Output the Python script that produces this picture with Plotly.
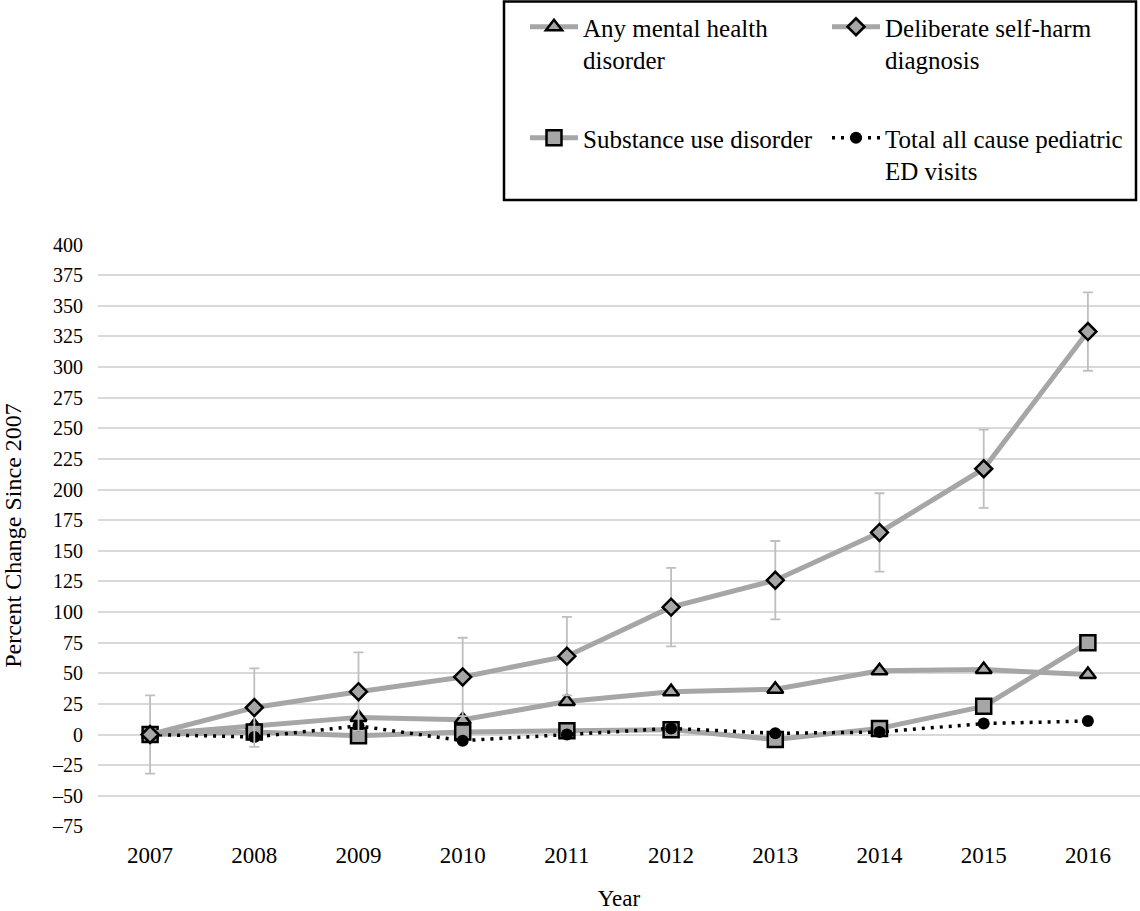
import plotly.graph_objects as go

years = ["2007", "2008", "2009", "2010", "2011", "2012", "2013", "2014", "2015", "2016"]
any_mental = [0, 7, 14, 12, 27, 35, 37, 52, 53, 49]
self_harm = [0, 22, 35, 47, 64, 104, 126, 165, 217, 329]
self_harm_err = [32, 32, 32, 32, 32, 32, 32, 32, 32, 32]
substance = [0, 2, -1, 2, 3, 4, -4, 5, 23, 75]
total_ed = [0, -2, 7, -5, 0, 5, 1, 2, 9, 11]

y_ticks = [-75, -50, -25, 0, 25, 50, 75, 100, 125, 150, 175, 200, 225, 250, 275, 300, 325, 350, 375, 400]
y_ticktext = ["\u201375", "\u201350", "\u201325", "0", "25", "50", "75", "100", "125", "150", "175", "200",
              "225", "250", "275", "300", "325", "350", "375", "400"]

FONT = "Liberation Serif, Times New Roman, serif"
GRAY = "#a6a6a6"

fig = go.Figure()

fig.add_trace(go.Scatter(
    x=years, y=any_mental, mode="lines+markers", name="Any mental health<br>disorder",
    line=dict(color=GRAY, width=5),
    marker=dict(symbol="triangle-up", size=14, color=GRAY, line=dict(color="black", width=2.5)),
    legend="legend", legendgroup="a", legendrank=1,
))
fig.add_trace(go.Scatter(
    x=years, y=substance, mode="lines+markers", name="Substance use disorder<br>&nbsp;",
    line=dict(color=GRAY, width=5),
    marker=dict(symbol="square", size=15, color=GRAY, line=dict(color="black", width=2.5)),
    legend="legend", legendgroup="b", legendrank=2,
))
fig.add_trace(go.Scatter(
    x=years, y=total_ed, mode="lines+markers", name="Total all cause pediatric<br>ED visits",
    line=dict(color="black", width=3.5, dash="3px,6px"),
    marker=dict(symbol="circle", size=12, color="black"),
    legend="legend2", legendgroup="d", legendrank=2,
))
fig.add_trace(go.Scatter(
    x=years, y=self_harm, mode="lines+markers", name="Deliberate self-harm<br>diagnosis",
    line=dict(color=GRAY, width=5),
    marker=dict(symbol="diamond", size=13, color=GRAY, line=dict(color="black", width=2.5)),
    error_y=dict(type="data", array=self_harm_err, visible=True, color="#bfbfbf", thickness=1.8, width=5),
    legend="legend2", legendgroup="c", legendrank=1,
))

leg_common = dict(
    orientation="v", xanchor="left", yanchor="top",
    bgcolor="rgba(0,0,0,0)", borderwidth=0,
    font=dict(family=FONT, size=25, color="black"),
    itemwidth=48, valign="top", tracegroupgap=43, traceorder="grouped",
)

fig.update_layout(
    width=1140, height=911,
    margin=dict(l=98, r=0, t=244, b=84, autoexpand=False),
    paper_bgcolor="white", plot_bgcolor="white",
    font=dict(family=FONT, color="black", size=20),
    showlegend=True,
    legend=dict(x=(525 - 98) / 1042, y=1 + 240 / 583, **leg_common),
    legend2=dict(x=(827 - 98) / 1042, y=1 + 240 / 583, **leg_common),
    shapes=[dict(
        type="rect", xref="paper", yref="paper",
        x0=(504 - 98) / 1042, x1=(1136 - 98) / 1042,
        y0=1 + (244 - 200) / 583, y1=1 + (244 - 1.5) / 583,
        line=dict(color="black", width=2.5), fillcolor="rgba(0,0,0,0)", layer="above",
    )],
    xaxis=dict(
        type="category", showgrid=False, showline=False, zeroline=False, ticks="",
        tickfont=dict(size=23, family=FONT), range=[-0.5, 9.5], automargin=False,
        ticklabelstandoff=12,
        title=dict(text="Year", font=dict(size=23, family=FONT), standoff=23),
    ),
    yaxis=dict(
        range=[-75.5, 400.5], tickvals=y_ticks, ticktext=y_ticktext,
        showgrid=True, gridcolor="#d9d9d9", gridwidth=2, zeroline=False, showline=False,
        ticks="", ticklabelstandoff=14, automargin=False,
        tickfont=dict(size=20, family=FONT),
        title=dict(text="Percent Change Since 2007", font=dict(size=24, family=FONT), standoff=25),
    ),
)

fig.write_html("out.html", config={"displayModeBar": False},
               post_script="document.body.style.margin='0';")
